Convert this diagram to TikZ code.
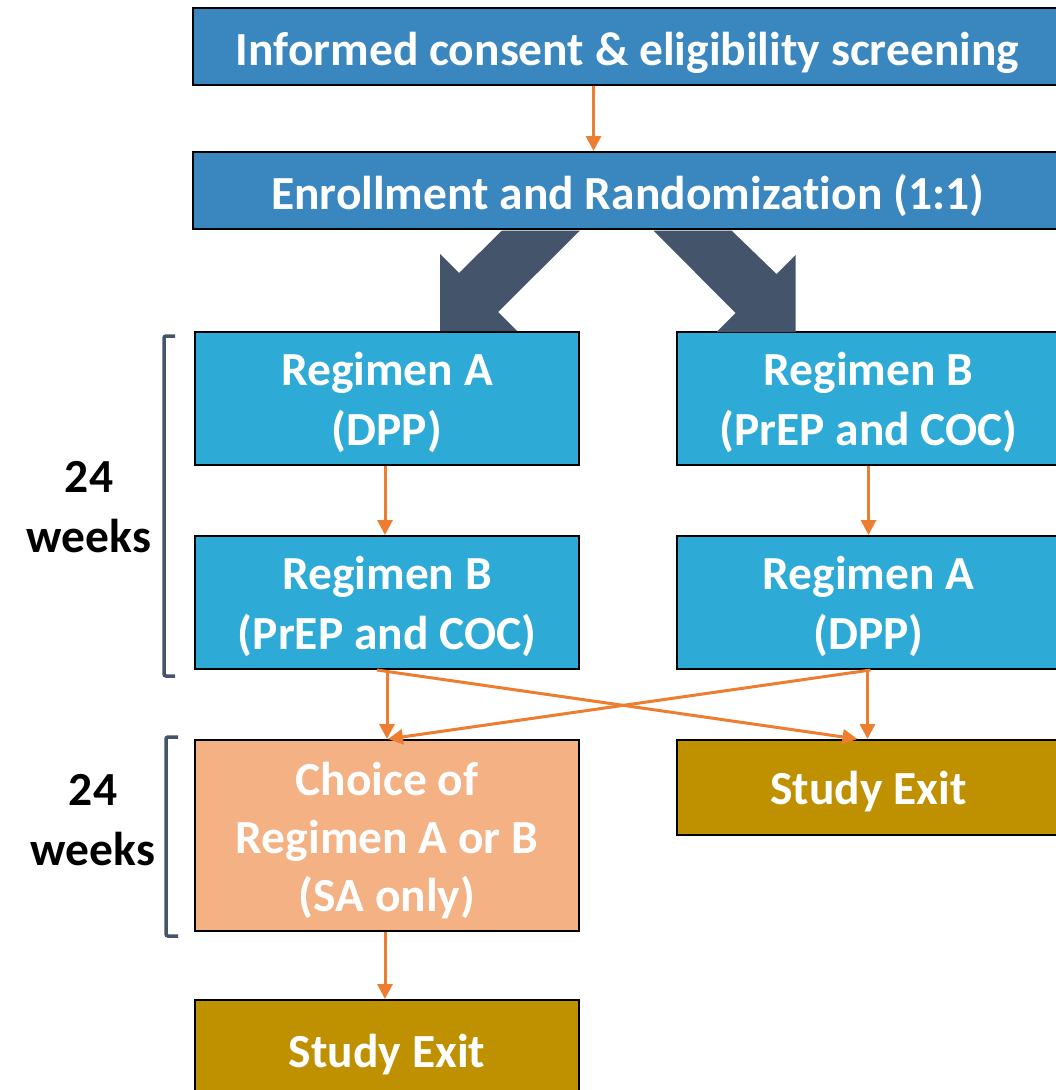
\documentclass[tikz,border=0pt]{standalone}
\usepackage{fontspec}
\setmainfont[Ligatures=NoCommon]{Carlito}
\usetikzlibrary{arrows.meta}
\definecolor{topblue}{HTML}{3A86BE}
\definecolor{regblue}{HTML}{2DAAD6}
\definecolor{peach}{HTML}{F4B183}
\definecolor{gold}{HTML}{BF9000}
\definecolor{slate}{HTML}{44546A}
\definecolor{orng}{HTML}{ED7D31}
\begin{document}
\begin{tikzpicture}[x=1pt,y=-1pt,
  box/.style={draw=black, line width=2pt, inner sep=0pt},
  boxtext/.style={text=white, align=center, inner sep=0pt, yshift=-4pt,
    font=\fontsize{47.5}{60}\selectfont\bfseries},
  oarrow/.style={draw=orng, line width=3pt, -{Triangle[length=15pt,width=15pt]}},
  bracket/.style={draw=slate, line width=3.5pt, rounded corners=2pt},
  lab/.style={align=center, font=\fontsize{47.5}{60}\selectfont\bfseries}]
\useasboundingbox (0,0) rectangle (1056,1090);
\fill[white] (0,0) rectangle (1056,1090);
% boxes
\node[box, fill=topblue, minimum width=869pt, minimum height=77pt,
  label={[boxtext, yshift=-2pt]center:Informed consent \& eligibility screening}] (consent) at (627.5,46.5) {};
\node[box, fill=topblue, minimum width=869pt, minimum height=77pt,
  label={[boxtext, yshift=-1pt]center:Enrollment and Randomization (1:1)}] (enrol) at (627.5,190.5) {};
\node[box, fill=regblue, minimum width=384pt, minimum height=133pt,
  label={[boxtext]center:{Regimen A\\(DPP)}}] (la) at (387,398.5) {};
\node[box, fill=regblue, minimum width=383pt, minimum height=133pt,
  label={[boxtext]center:{Regimen B\\(PrEP and COC)}}] (rb) at (868.5,398.5) {};
\node[box, fill=regblue, minimum width=384pt, minimum height=133pt,
  label={[boxtext]center:{Regimen B\\(PrEP and COC)}}] (lb) at (387,602.5) {};
\node[box, fill=regblue, minimum width=383pt, minimum height=133pt,
  label={[boxtext]center:{Regimen A\\(DPP)}}] (ra) at (868.5,602.5) {};
\node[box, fill=peach, minimum width=384pt, minimum height=191pt,
  label={[boxtext, font=\fontsize{47.5}{58}\selectfont\bfseries, yshift=-1pt]center:{Choice of\\Regimen A or B\\(SA only)}}] (choice) at (387,835.5) {};
\node[box, fill=gold, minimum width=383pt, minimum height=95pt,
  label={[boxtext]center:Study Exit}] (exitr) at (868.5,787.5) {};
\node[box, fill=gold, minimum width=384pt, minimum height=100pt,
  label={[boxtext, yshift=-1pt]center:Study Exit}] (exitl) at (387,1050) {};
% big slate arrows
\fill[slate] (502,230.5) -- (580,230.5) -- (498,312) -- (517,331) -- (440,331) -- (440,254) -- (459,273) -- cycle;
\fill[slate] (731.5,230.5) -- (653.5,230.5) -- (735.5,313) -- (716.5,332) -- (795.5,332) -- (795.5,255) -- (776.5,274) -- cycle;
% orange arrows
\draw[oarrow] ([xshift=-34pt]consent.south) -- ([xshift=-34pt]enrol.north);
\draw[oarrow] ([xshift=-2pt]la.south) -- ([xshift=-2pt]lb.north);
\draw[oarrow] (rb.south) -- (ra.north);
\draw[oarrow] (lb.south) -- (choice.north);
\draw[oarrow] ([xshift=-10pt]lb.south) -- ([xshift=-11pt]exitr.north);
\draw[oarrow] ([xshift=2pt]ra.south) -- ([xshift=1pt]choice.north);
\draw[oarrow] ([xshift=-1pt]ra.south) -- ([xshift=-1pt]exitr.north);
\draw[oarrow] ([xshift=-2pt]choice.south) -- ([xshift=-2pt]exitl.north);
% brackets
\draw[bracket] (175,336) -- (164,336) -- (164,676) -- (175,676);
\draw[bracket] (178,737) -- (166,737) -- (166,936) -- (178,936);
% labels
\node[lab] (w1) at (89,507) {24\\weeks};
\node[lab] (w2) at (93,820) {24\\weeks};
\end{tikzpicture}
\end{document}
